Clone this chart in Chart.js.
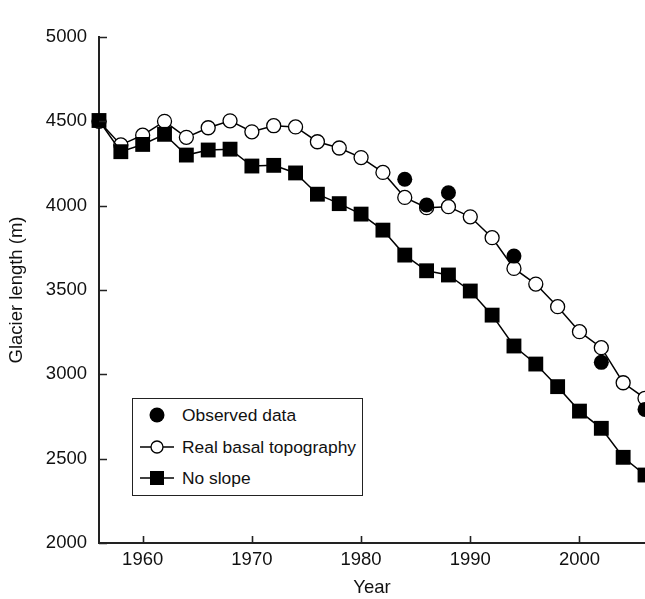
<!DOCTYPE html>
<html>
<head>
<meta charset="utf-8">
<script src="https://cdn.jsdelivr.net/npm/chart.js@4.4.1/dist/chart.umd.min.js"></script>
<style>
html,body{margin:0;padding:0;background:#fff;}
#wrap{position:relative;width:645px;height:599px;overflow:hidden;}
#legend{position:absolute;left:132px;top:398px;width:231px;height:98px;border:1.5px solid #222;box-sizing:border-box;font-family:"Liberation Sans",Arial,Helvetica,sans-serif;font-size:17.4px;color:#111;background:#fff;}
.row{position:absolute;left:0;height:24px;display:flex;align-items:center;white-space:nowrap;}
.row svg{display:block;margin-left:7px;margin-right:8px;}
</style>
</head>
<body>
<div id="wrap">
<canvas id="c" width="645" height="599"></canvas>
<div id="legend">
  <div class="row" style="top:4px"><svg width="34" height="20"><circle cx="17" cy="10" r="7.5" fill="#000"/></svg><span>Observed data</span></div>
  <div class="row" style="top:36px"><svg width="34" height="20"><line x1="0" y1="10" x2="34" y2="10" stroke="#000" stroke-width="1.5"/><circle cx="17" cy="10" r="6" fill="#fff" stroke="#000" stroke-width="1.3"/></svg><span>Real basal topography</span></div>
  <div class="row" style="top:67px"><svg width="34" height="20"><line x1="0" y1="10" x2="34" y2="10" stroke="#000" stroke-width="1.5"/><rect x="10" y="3" width="14" height="14" fill="#000"/></svg><span>No slope</span></div>
</div>
</div>
<script>
// ---- data ----
const years = [1956,1958,1960,1962,1964,1966,1968,1970,1972,1974,1976,1978,1980,1982,1984,1986,1988,1990,1992,1994,1996,1998,2000,2002,2004,2006];
const realBasal = [4500,4360,4418,4500,4405,4462,4503,4438,4474,4467,4379,4342,4285,4197,4049,3988,3994,3934,3810,3628,3535,3401,3253,3158,2950,2858];
const noSlope = [4505,4320,4363,4423,4300,4330,4335,4235,4239,4194,4068,4012,3950,3855,3707,3614,3589,3494,3351,3168,3061,2927,2782,2680,2508,2403];
const obsYears = [1984,1986,1988,1994,2002,2006];
const observed = [4157,4004,4077,3701,3071,2792];
const xTicks = [1960,1970,1980,1990,2000];
const yTicks = [2000,2500,3000,3500,4000,4500,5000];

const pts = (xs, ys) => xs.map((x,i)=>({x:x, y:ys[i]}));
const FONT = '"Liberation Sans", Arial, Helvetica, sans-serif';
const INK = '#111';
const AXIS = '#222';

const innerTicks = {
  id:'innerTicks',
  afterDraw(chart){
    const {ctx, scales:{x,y}} = chart;
    ctx.save();
    ctx.strokeStyle = AXIS; ctx.lineWidth = 1.6;
    ctx.beginPath();
    y.ticks.forEach(t=>{ const py = Math.round(y.getPixelForValue(t.value))+0.5; ctx.moveTo(y.right, py); ctx.lineTo(y.right+8, py); });
    x.ticks.forEach(t=>{ const px = Math.round(x.getPixelForValue(t.value))+0.5; ctx.moveTo(px, x.top); ctx.lineTo(px, x.top-7); });
    ctx.stroke();
    ctx.restore();
  }
};

new Chart(document.getElementById('c'), {
  type:'line',
  data:{
    datasets:[
      { label:'Observed data', data:pts(obsYears, observed), showLine:false,
        pointStyle:'circle', pointRadius:7.5, pointBackgroundColor:'#000', pointBorderColor:'#000', pointBorderWidth:0, order:0, clip:false },
      { label:'No slope', data:pts(years, noSlope), borderColor:'#000', borderWidth:1.5, tension:0,
        pointStyle:'rect', pointRadius:10.5, pointBackgroundColor:'#000', pointBorderColor:'#000', pointBorderWidth:0, order:1, clip:false },
      { label:'Real basal topography', data:pts(years, realBasal), borderColor:'#000', borderWidth:1.5, tension:0,
        pointStyle:'circle', pointRadius:7, pointBackgroundColor:'#fff', pointBorderColor:'#000', pointBorderWidth:1.3, order:2, clip:false }
    ]
  },
  options:{
    responsive:false, animation:false, devicePixelRatio:1,
    layout:{autoPadding:false, padding:{top:37,right:0,bottom:0,left:0}},
    plugins:{legend:{display:false}, tooltip:{enabled:false}},
    scales:{
      x:{ type:'linear', min:1956, max:2006,
        afterBuildTicks:s=>{ s.ticks = xTicks.map(v=>({value:v})); },
        afterFit:s=>{ s.height = 56; s.paddingLeft = 0; s.paddingRight = 0; },
        grid:{display:false, drawTicks:false},
        border:{display:true, color:AXIS, width:2},
        ticks:{ color:INK, font:{family:FONT, size:18.5}, padding:6, maxRotation:0, autoSkip:false, callback:v=>String(v) },
        title:{ display:true, text:'Year', color:INK, font:{family:FONT, size:18.5}, padding:{top:0,bottom:0} }
      },
      y:{ type:'linear', min:2000, max:5000,
        afterBuildTicks:s=>{ s.ticks = yTicks.map(v=>({value:v})); },
        afterFit:s=>{ s.width = 99; },
        grid:{display:false, drawTicks:false},
        border:{display:true, color:AXIS, width:2},
        ticks:{ color:INK, font:{family:FONT, size:18.5}, padding:12, callback:v=>String(v) },
        title:{ display:true, text:'Glacier length (m)', color:INK, font:{family:FONT, size:18.5}, padding:{top:6,bottom:0} }
      }
    }
  },
  plugins:[innerTicks]
});
</script>
</body>
</html>
